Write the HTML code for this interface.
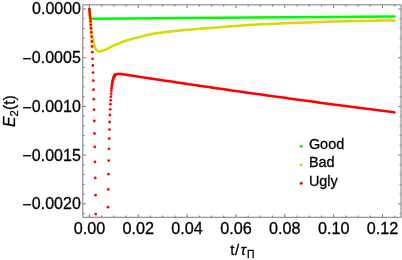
<!DOCTYPE html>
<html><head><meta charset="utf-8"><title>plot</title>
<style>html,body{margin:0;padding:0;background:#fff;overflow:hidden}svg{display:block;will-change:transform}</style></head>
<body>
<svg width="402" height="260" viewBox="0 0 402 260">
<rect width="402" height="260" fill="#fff"/>
<clipPath id="c"><rect x="82.8" y="4.85" width="318.2" height="212.45000000000002"/></clipPath>
<g clip-path="url(#c)" fill="none" stroke-linecap="round" stroke-linejoin="round">
<polyline points="89.2,9.35 89.4,12.65 89.7,15.45 90.1,17.45 90.7,18.55 91.6,18.85 162.0,18.15 250.0,17.40 322.0,16.95 394.6,16.55" stroke="#00fa00" stroke-width="2.55"/>
<polyline points="89.20,9.20 89.45,12.80 89.70,16.19 89.95,19.28 90.20,22.00 90.45,24.44 90.70,26.73 90.95,28.86 91.20,30.80 91.45,32.52 91.70,34.00 91.95,35.22 92.20,36.25 92.45,37.20 92.70,38.18 92.95,39.27 93.20,40.44 93.45,41.64 93.70,42.78 93.95,43.81 94.20,44.74 94.45,45.64 94.70,46.50 94.95,47.29 95.20,47.97 95.45,48.51 95.70,48.94 95.95,49.33 96.20,49.70 96.45,50.03 96.70,50.32 96.95,50.57 97.20,50.75 97.45,50.88 97.70,50.96 97.95,51.04 98.20,51.11 98.45,51.17 98.70,51.22 98.95,51.25 99.20,51.28 99.45,51.30 99.70,51.30 99.95,51.29 100.20,51.26 100.45,51.23 100.70,51.19 100.95,51.14 101.20,51.08 101.45,51.01 101.70,50.94 101.95,50.87 102.20,50.80 102.45,50.72 102.70,50.65 102.95,50.57 103.20,50.50 103.45,50.43 103.70,50.35 103.95,50.27 104.20,50.19 104.45,50.10 104.70,50.01 104.95,49.91 105.20,49.81 105.45,49.71 105.70,49.61 105.95,49.51 106.20,49.40 106.45,49.29 106.70,49.18 106.95,49.07 107.20,48.95 107.45,48.83 107.70,48.71 107.95,48.58 108.20,48.44 108.45,48.30 108.70,48.15 108.95,48.01 109.20,47.86 109.45,47.71 109.70,47.57 109.95,47.42 110.20,47.28 110.45,47.14 110.70,47.00 110.95,46.87 111.20,46.75 111.45,46.62 111.70,46.49 111.95,46.37 112.20,46.25 112.45,46.13 112.70,46.00 112.95,45.89 113.20,45.77 113.45,45.65 113.70,45.54 113.95,45.42 114.20,45.31 114.45,45.20 114.70,45.09 114.95,44.98 115.20,44.88 115.45,44.77 115.70,44.67 115.95,44.56 116.20,44.46 116.45,44.36 116.70,44.26 116.95,44.16 117.20,44.06 117.45,43.96 117.70,43.86 117.95,43.76 118.20,43.66 118.45,43.55 118.70,43.45 118.95,43.35 119.20,43.25 119.45,43.15 119.70,43.05 119.95,42.95 120.20,42.85 120.45,42.76 120.70,42.66 120.95,42.56 121.20,42.46 121.45,42.36 121.70,42.26 121.95,42.17 122.20,42.07 122.45,41.98 122.70,41.88 122.95,41.79 123.20,41.69 123.45,41.60 123.70,41.50 123.95,41.41 124.20,41.32 124.45,41.23 124.70,41.14 124.95,41.05 125.20,40.96 125.45,40.87 125.70,40.79 125.95,40.70 126.20,40.61 126.45,40.53 126.70,40.45 126.95,40.37 127.20,40.28 127.45,40.20 127.70,40.12 127.95,40.05 128.20,39.97 128.45,39.89 128.70,39.82 128.95,39.74 129.20,39.67 129.45,39.60 129.70,39.53 129.95,39.45 130.00,39.44 131.00,39.16 132.00,38.90 133.00,38.64 134.00,38.38 135.00,38.13 136.00,37.89 137.00,37.64 138.00,37.40 139.00,37.15 140.00,36.90 141.00,36.64 142.00,36.38 143.00,36.12 144.00,35.86 145.00,35.60 146.00,35.35 147.00,35.10 148.00,34.86 149.00,34.63 150.00,34.42 151.00,34.22 152.00,34.03 153.00,33.85 154.00,33.68 155.00,33.51 156.00,33.36 157.00,33.20 158.00,33.05 159.00,32.91 160.00,32.77 161.00,32.63 162.00,32.50 163.00,32.37 164.00,32.24 165.00,32.12 166.00,32.00 167.00,31.87 168.00,31.76 169.00,31.64 170.00,31.53 171.00,31.41 172.00,31.30 173.00,31.19 174.00,31.09 175.00,30.98 176.00,30.88 177.00,30.77 178.00,30.67 179.00,30.57 180.00,30.47 181.00,30.38 182.00,30.28 183.00,30.19 184.00,30.09 185.00,30.00 186.00,29.91 187.00,29.82 188.00,29.73 189.00,29.65 190.00,29.56 191.00,29.48 192.00,29.40 193.00,29.31 194.00,29.23 195.00,29.16 196.00,29.08 197.00,29.00 198.00,28.92 199.00,28.85 200.00,28.77 201.00,28.69 202.00,28.62 203.00,28.54 204.00,28.47 205.00,28.39 206.00,28.31 207.00,28.24 208.00,28.16 209.00,28.08 210.00,28.00 211.00,27.92 212.00,27.84 213.00,27.76 214.00,27.68 215.00,27.59 216.00,27.51 217.00,27.43 218.00,27.34 219.00,27.26 220.00,27.18 221.00,27.10 222.00,27.01 223.00,26.93 224.00,26.85 225.00,26.77 226.00,26.69 227.00,26.61 228.00,26.53 229.00,26.45 230.00,26.37 231.00,26.29 232.00,26.22 233.00,26.14 234.00,26.07 235.00,26.00 236.00,25.93 237.00,25.86 238.00,25.79 239.00,25.72 240.00,25.65 241.00,25.58 242.00,25.51 243.00,25.44 244.00,25.37 245.00,25.31 246.00,25.24 247.00,25.17 248.00,25.11 249.00,25.04 250.00,24.98 251.00,24.92 252.00,24.85 253.00,24.79 254.00,24.73 255.00,24.68 256.00,24.62 257.00,24.56 258.00,24.51 259.00,24.45 260.00,24.40 261.00,24.35 262.00,24.30 263.00,24.25 264.00,24.20 265.00,24.15 266.00,24.10 267.00,24.05 268.00,24.00 269.00,23.96 270.00,23.91 271.00,23.86 272.00,23.82 273.00,23.77 274.00,23.73 275.00,23.68 276.00,23.64 277.00,23.60 278.00,23.55 279.00,23.51 280.00,23.47 281.00,23.43 282.00,23.39 283.00,23.35 284.00,23.31 285.00,23.27 286.00,23.23 287.00,23.19 288.00,23.15 289.00,23.11 290.00,23.07 291.00,23.03 292.00,22.99 293.00,22.96 294.00,22.92 295.00,22.88 296.00,22.85 297.00,22.81 298.00,22.77 299.00,22.74 300.00,22.70 301.00,22.66 302.00,22.63 303.00,22.60 304.00,22.56 305.00,22.53 306.00,22.50 307.00,22.46 308.00,22.43 309.00,22.40 310.00,22.37 311.00,22.34 312.00,22.31 313.00,22.28 314.00,22.25 315.00,22.22 316.00,22.19 317.00,22.16 318.00,22.13 319.00,22.09 320.00,22.06 321.00,22.03 322.00,22.00 323.00,21.97 324.00,21.93 325.00,21.90 326.00,21.87 327.00,21.83 328.00,21.80 329.00,21.76 330.00,21.72 331.00,21.69 332.00,21.65 333.00,21.61 334.00,21.58 335.00,21.54 336.00,21.51 337.00,21.47 338.00,21.44 339.00,21.40 340.00,21.37 341.00,21.34 342.00,21.31 343.00,21.28 344.00,21.25 345.00,21.22 346.00,21.19 347.00,21.17 348.00,21.14 349.00,21.12 350.00,21.10 351.00,21.08 352.00,21.06 353.00,21.04 354.00,21.02 355.00,21.00 356.00,20.98 357.00,20.96 358.00,20.95 359.00,20.93 360.00,20.91 361.00,20.89 362.00,20.87 363.00,20.85 364.00,20.84 365.00,20.82 366.00,20.80 367.00,20.79 368.00,20.77 369.00,20.75 370.00,20.74 371.00,20.72 372.00,20.71 373.00,20.69 374.00,20.68 375.00,20.66 376.00,20.65 377.00,20.64 378.00,20.62 379.00,20.61 380.00,20.60 381.00,20.59 382.00,20.58 383.00,20.57 384.00,20.56 385.00,20.55 386.00,20.54 387.00,20.54 388.00,20.53 389.00,20.52 390.00,20.52 391.00,20.51 392.00,20.51 393.00,20.50 394.00,20.50 394.60,20.50" stroke="#d9d900" stroke-width="2.55"/>
<g fill="#ff0000" stroke="none"><circle cx="89.40" cy="9.20" r="1.38"/><circle cx="89.64" cy="11.40" r="1.38"/><circle cx="89.89" cy="13.70" r="1.38"/><circle cx="90.13" cy="16.00" r="1.38"/><circle cx="90.38" cy="18.50" r="1.38"/><circle cx="90.62" cy="21.40" r="1.38"/><circle cx="90.87" cy="24.80" r="1.38"/><circle cx="91.11" cy="28.30" r="1.38"/><circle cx="91.35" cy="32.30" r="1.38"/><circle cx="91.60" cy="36.70" r="1.38"/><circle cx="91.84" cy="41.50" r="1.38"/><circle cx="92.09" cy="46.50" r="1.38"/><circle cx="92.33" cy="52.20" r="1.38"/><circle cx="92.58" cy="58.80" r="1.38"/><circle cx="92.82" cy="65.50" r="1.38"/><circle cx="93.06" cy="72.60" r="1.38"/><circle cx="93.31" cy="80.70" r="1.38"/><circle cx="93.55" cy="89.70" r="1.38"/><circle cx="93.80" cy="99.20" r="1.38"/><circle cx="94.04" cy="109.70" r="1.38"/><circle cx="94.29" cy="121.00" r="1.38"/><circle cx="94.53" cy="133.50" r="1.38"/><circle cx="94.77" cy="146.90" r="1.38"/><circle cx="95.02" cy="161.90" r="1.38"/><circle cx="95.26" cy="177.90" r="1.38"/><circle cx="95.51" cy="195.20" r="1.38"/><circle cx="95.75" cy="214.10" r="1.38"/><circle cx="107.96" cy="207.20" r="1.38"/><circle cx="108.21" cy="189.40" r="1.38"/><circle cx="108.45" cy="174.20" r="1.38"/><circle cx="108.69" cy="160.60" r="1.38"/><circle cx="108.94" cy="148.80" r="1.38"/><circle cx="109.18" cy="138.60" r="1.38"/><circle cx="109.43" cy="129.60" r="1.38"/><circle cx="109.67" cy="122.00" r="1.38"/><circle cx="109.92" cy="115.00" r="1.38"/><circle cx="110.16" cy="109.30" r="1.38"/><circle cx="110.40" cy="104.20" r="1.38"/><circle cx="110.65" cy="100.30" r="1.38"/><circle cx="110.89" cy="96.74" r="1.38"/><circle cx="111.14" cy="93.52" r="1.38"/><circle cx="111.38" cy="90.74" r="1.38"/><circle cx="111.63" cy="88.33" r="1.38"/><circle cx="111.87" cy="86.25" r="1.38"/><circle cx="112.11" cy="84.46" r="1.38"/><circle cx="112.36" cy="82.91" r="1.38"/><circle cx="112.60" cy="81.58" r="1.38"/><circle cx="112.85" cy="80.42" r="1.38"/><circle cx="113.09" cy="79.43" r="1.38"/><circle cx="113.34" cy="78.58" r="1.38"/><circle cx="113.58" cy="77.84" r="1.38"/><circle cx="113.82" cy="77.21" r="1.38"/><circle cx="114.07" cy="76.67" r="1.38"/><circle cx="114.31" cy="76.21" r="1.38"/><circle cx="114.56" cy="75.81" r="1.38"/><circle cx="114.80" cy="75.47" r="1.38"/><circle cx="115.05" cy="75.18" r="1.38"/><circle cx="115.29" cy="74.94" r="1.38"/><circle cx="115.53" cy="74.73" r="1.38"/><circle cx="115.78" cy="74.56" r="1.38"/><circle cx="116.02" cy="74.41" r="1.38"/></g>
<polyline points="114.56,75.81 114.80,75.47 115.05,75.18 115.29,74.94 115.53,74.73 115.78,74.56 116.02,74.41 116.27,74.29 116.51,74.19 116.76,74.11 117.00,74.04 117.24,73.99 117.49,73.95 117.73,73.92 117.98,73.90 118.22,73.89 118.47,73.88 118.71,73.88 118.95,73.89 119.20,73.90 119.44,73.91 119.69,73.93 119.93,73.95 120.18,73.97 120.42,73.99 120.66,74.02 120.91,74.05 121.15,74.07 121.40,74.10 121.64,74.13 121.89,74.17 122.13,74.20 122.37,74.23 122.62,74.27 122.86,74.30 123.11,74.33 123.35,74.37 123.60,74.41 123.84,74.44 124.08,74.48 124.33,74.51 124.57,74.55 124.82,74.59 125.06,74.62 125.31,74.66 125.55,74.70 125.80,74.73 126.04,74.77 126.28,74.81 126.53,74.84 126.77,74.88 127.02,74.92 127.26,74.95 127.51,74.99 127.75,75.03 127.99,75.07 128.24,75.10 128.48,75.14 128.73,75.18 128.97,75.22 129.22,75.25 129.46,75.29 129.70,75.33 129.95,75.36 130.19,75.40 130.44,75.44 130.68,75.48 130.93,75.51 131.17,75.55 131.41,75.59 131.66,75.63 131.90,75.66 132.15,75.70 132.39,75.74 132.64,75.77 132.88,75.81 133.12,75.85 133.37,75.89 133.61,75.92 133.86,75.96 134.10,76.00 134.35,76.04 134.59,76.07 134.83,76.11 135.08,76.15 135.32,76.18 135.57,76.22 135.81,76.26 136.06,76.30 136.30,76.33 136.54,76.37 136.79,76.41 137.03,76.45 137.28,76.48 137.52,76.52 137.77,76.56 138.01,76.59 138.25,76.63 138.50,76.67 138.74,76.71 138.99,76.74 139.23,76.78 139.48,76.82 139.72,76.85 139.96,76.89 140.21,76.93 140.45,76.97 140.70,77.00 140.94,77.04 141.19,77.08 141.43,77.11 141.67,77.15 141.92,77.19 142.16,77.22 142.41,77.26 142.65,77.30 142.90,77.34 143.14,77.37 143.38,77.41 143.63,77.45 143.87,77.48 144.12,77.52 144.36,77.56 144.61,77.59 144.85,77.63 145.09,77.67 145.34,77.71 145.58,77.74 145.83,77.78 146.07,77.82 146.32,77.85 146.56,77.89 146.80,77.93 147.05,77.96 147.29,78.00 147.54,78.04 147.78,78.08 148.03,78.11 148.27,78.15 148.51,78.19 148.76,78.22 149.00,78.26 149.25,78.30 149.49,78.33 149.74,78.37 149.98,78.41 150.22,78.44 150.47,78.48 150.71,78.52 150.96,78.56 151.20,78.59 151.45,78.63 151.69,78.67 151.94,78.70 152.18,78.74 152.42,78.78 152.67,78.81 152.91,78.85 153.16,78.89 153.40,78.92 153.65,78.96 153.89,79.00 154.13,79.03 154.38,79.07 154.62,79.11 154.87,79.14 155.11,79.18 155.36,79.22 155.60,79.25 155.84,79.29 156.09,79.33 156.33,79.36 156.58,79.40 156.82,79.44 157.07,79.47 157.31,79.51 157.55,79.55 157.80,79.58 158.04,79.62 158.29,79.66 158.53,79.69 158.78,79.73 159.02,79.77 159.26,79.80 159.51,79.84 159.75,79.88 160.00,79.91 160.24,79.95 160.49,79.99 160.73,80.02 160.97,80.06 161.22,80.10 161.46,80.13 161.71,80.17 161.95,80.21 162.20,80.24 162.44,80.28 162.68,80.32 162.93,80.35 163.17,80.39 163.42,80.43 165.37,80.72 167.33,81.01 169.28,81.30 171.23,81.59 173.19,81.88 175.14,82.18 177.10,82.47 179.05,82.75 181.01,83.04 182.96,83.33 184.92,83.62 186.87,83.91 188.82,84.20 190.78,84.49 192.73,84.77 194.69,85.06 196.64,85.35 198.60,85.63 200.55,85.92 202.51,86.20 204.46,86.49 206.41,86.77 208.37,87.06 210.32,87.34 212.28,87.62 214.23,87.91 216.19,88.19 218.14,88.47 220.09,88.75 222.05,89.03 224.00,89.32 225.96,89.60 227.91,89.88 229.87,90.16 231.82,90.44 233.78,90.72 235.73,90.99 237.68,91.27 239.64,91.55 241.59,91.83 243.55,92.11 245.50,92.38 247.46,92.66 249.41,92.94 251.37,93.21 253.32,93.49 255.27,93.76 257.23,94.04 259.18,94.31 261.14,94.59 263.09,94.86 265.05,95.13 267.00,95.41 268.95,95.68 270.91,95.95 272.86,96.22 274.82,96.50 276.77,96.77 278.73,97.04 280.68,97.31 282.64,97.58 284.59,97.85 286.54,98.12 288.50,98.39 290.45,98.65 292.41,98.92 294.36,99.19 296.32,99.46 298.27,99.73 300.23,99.99 302.18,100.26 304.13,100.52 306.09,100.79 308.04,101.06 310.00,101.32 311.95,101.58 313.91,101.85 315.86,102.11 317.81,102.38 319.77,102.64 321.72,102.90 323.68,103.16 325.63,103.43 327.59,103.69 329.54,103.95 331.50,104.21 333.45,104.47 335.40,104.73 337.36,104.99 339.31,105.25 341.27,105.51 343.22,105.77 345.18,106.02 347.13,106.28 349.09,106.54 351.04,106.80 352.99,107.05 354.95,107.31 356.90,107.57 358.86,107.82 360.81,108.08 362.77,108.33 364.72,108.59 366.67,108.84 368.63,109.09 370.58,109.35 372.54,109.60 374.49,109.85 376.45,110.11 378.40,110.36 380.36,110.61 382.31,110.86 384.26,111.11 386.22,111.36 388.17,111.61 390.13,111.86 392.08,112.11 394.04,112.36 394.52,112.42" stroke="#ff0000" stroke-width="2.55"/>
</g>
<g stroke="#7a7a7a" stroke-width="1" fill="none">
<rect x="82.8" y="4.85" width="318.2" height="212.45000000000002"/>
<path d="M89.40 217.3v-3.2M89.40 4.85v3.2M101.61 217.3v-1.8M101.61 4.85v1.8M113.83 217.3v-1.8M113.83 4.85v1.8M126.04 217.3v-1.8M126.04 4.85v1.8M138.25 217.3v-3.2M138.25 4.85v3.2M150.46 217.3v-1.8M150.46 4.85v1.8M162.68 217.3v-1.8M162.68 4.85v1.8M174.89 217.3v-1.8M174.89 4.85v1.8M187.10 217.3v-3.2M187.10 4.85v3.2M199.31 217.3v-1.8M199.31 4.85v1.8M211.53 217.3v-1.8M211.53 4.85v1.8M223.74 217.3v-1.8M223.74 4.85v1.8M235.95 217.3v-3.2M235.95 4.85v3.2M248.16 217.3v-1.8M248.16 4.85v1.8M260.38 217.3v-1.8M260.38 4.85v1.8M272.59 217.3v-1.8M272.59 4.85v1.8M284.80 217.3v-3.2M284.80 4.85v3.2M297.01 217.3v-1.8M297.01 4.85v1.8M309.23 217.3v-1.8M309.23 4.85v1.8M321.44 217.3v-1.8M321.44 4.85v1.8M333.65 217.3v-3.2M333.65 4.85v3.2M345.86 217.3v-1.8M345.86 4.85v1.8M358.08 217.3v-1.8M358.08 4.85v1.8M370.29 217.3v-1.8M370.29 4.85v1.8M382.50 217.3v-3.2M382.50 4.85v3.2M394.71 217.3v-1.8M394.71 4.85v1.8M82.8 9.00h3.2M401.0 9.00h-2.9000000000000004M82.8 18.74h1.8M401.0 18.74h-1.5M82.8 28.48h1.8M401.0 28.48h-1.5M82.8 38.22h1.8M401.0 38.22h-1.5M82.8 47.96h1.8M401.0 47.96h-1.5M82.8 57.70h3.2M401.0 57.70h-2.9000000000000004M82.8 67.45h1.8M401.0 67.45h-1.5M82.8 77.19h1.8M401.0 77.19h-1.5M82.8 86.93h1.8M401.0 86.93h-1.5M82.8 96.67h1.8M401.0 96.67h-1.5M82.8 106.41h3.2M401.0 106.41h-2.9000000000000004M82.8 116.15h1.8M401.0 116.15h-1.5M82.8 125.89h1.8M401.0 125.89h-1.5M82.8 135.63h1.8M401.0 135.63h-1.5M82.8 145.37h1.8M401.0 145.37h-1.5M82.8 155.12h3.2M401.0 155.12h-2.9000000000000004M82.8 164.86h1.8M401.0 164.86h-1.5M82.8 174.60h1.8M401.0 174.60h-1.5M82.8 184.34h1.8M401.0 184.34h-1.5M82.8 194.08h1.8M401.0 194.08h-1.5M82.8 203.82h3.2M401.0 203.82h-2.9000000000000004M82.8 213.56h1.8M401.0 213.56h-1.5" stroke-width="1"/>
</g>
<g font-family="Liberation Sans, sans-serif" font-size="16.2" fill="#000" stroke="#000" stroke-width="0.28">
<text x="89.40" y="233.6" text-anchor="middle">0.00</text>
<text x="138.25" y="233.6" text-anchor="middle">0.02</text>
<text x="187.10" y="233.6" text-anchor="middle">0.04</text>
<text x="235.95" y="233.6" text-anchor="middle">0.06</text>
<text x="284.80" y="233.6" text-anchor="middle">0.08</text>
<text x="333.65" y="233.6" text-anchor="middle">0.10</text>
<text x="382.50" y="233.6" text-anchor="middle">0.12</text>
<text x="81.0" y="14.30" text-anchor="end" font-size="16">0.0000</text>
<text x="81.0" y="63.30" text-anchor="end" font-size="16"><tspan dx="-0.2" dy="0.6">−</tspan><tspan dx="0.2" dy="-0.6">0.0005</tspan></text>
<text x="81.0" y="112.01" text-anchor="end" font-size="16"><tspan dx="-0.2" dy="0.6">−</tspan><tspan dx="0.2" dy="-0.6">0.0010</tspan></text>
<text x="81.0" y="160.72" text-anchor="end" font-size="16"><tspan dx="-0.2" dy="0.6">−</tspan><tspan dx="0.2" dy="-0.6">0.0015</tspan></text>
<text x="81.0" y="209.42" text-anchor="end" font-size="16"><tspan dx="-0.2" dy="0.6">−</tspan><tspan dx="0.2" dy="-0.6">0.0020</tspan></text>
 <circle cx="301.2" cy="146.3" r="1.5" fill="#00fa00" stroke="none"/>
<text x="308.9" y="149.0" font-size="14.45">Good</text>
 <circle cx="301.2" cy="164.8" r="1.5" fill="#d9d900" stroke="none"/>
<text x="308.9" y="167.4" font-size="14.45">Bad</text>
 <circle cx="301.2" cy="183.2" r="1.5" fill="#ff0000" stroke="none"/>
<text x="308.9" y="185.8" font-size="14.45">Ugly</text>
<text x="230.3" y="254.9" font-size="15">t<tspan dx="0.6">/</tspan><tspan font-style="italic" dx="1.3">τ</tspan><tspan font-size="10.4" dx="0.9" dy="3.4">Π</tspan></text>
<text transform="translate(14.6,127.0) rotate(-90)" font-size="15.8"><tspan font-style="italic">E</tspan><tspan font-size="11.5" dy="3.6">2</tspan><tspan dy="-3.6">(t)</tspan></text>
</g>
</svg>
</body></html>
